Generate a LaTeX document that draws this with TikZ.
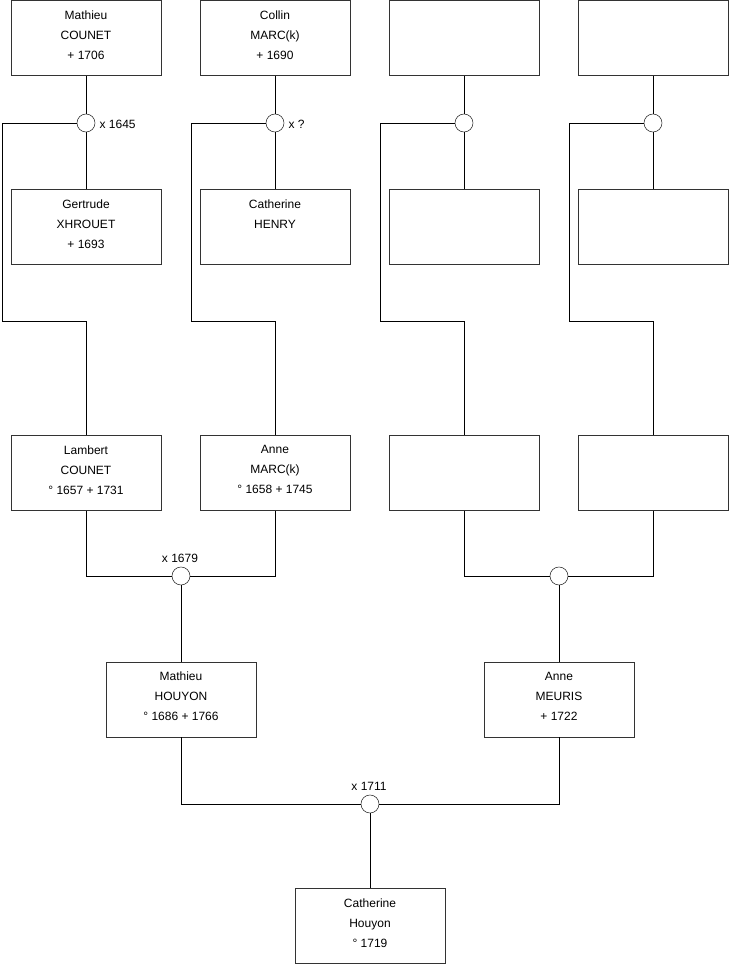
\documentclass[tikz,border=0pt]{standalone}
\usepackage{fontspec}
\setmainfont{Liberation Sans}
\begin{document}
\begin{tikzpicture}[x=0.75pt,y=-0.75pt,
  person/.style={draw=black!80,fill=white,minimum width=112.5pt,minimum height=56.25pt,align=center,font=\fontsize{9}{15}\selectfont,inner sep=0pt,text depth=5pt},
  union/.style={draw=black!85,fill=white,circle,minimum size=13.5pt,inner sep=0pt},
  lbl/.style={font=\fontsize{9}{11}\selectfont,inner sep=1pt},
  link/.style={draw=black,line width=0.6pt}]
\useasboundingbox (0,0) rectangle (740,975);
% row 1
\node[person] (p1) at (86,38) {Mathieu\\COUNET\\+ 1706};
\node[person] (p2) at (275,38) {Collin\\MARC(k)\\+ 1690};
\node[person] (p3) at (464,38) {};
\node[person] (p4) at (653,38) {};
% unions row 1
\node[union] (u1) at (86,123) {};
\node[union] (u2) at (275,123) {};
\node[union] (u3) at (464,123) {};
\node[union] (u4) at (653,123) {};
\node[lbl,anchor=west] (l1) at (98,124) {x 1645};
\node[lbl,anchor=west] (l2) at (287,124) {x ?};
% row 2
\node[person] (q1) at (86,227) {Gertrude\\XHROUET\\+ 1693};
\node[person] (q2) at (275,227) {Catherine\\HENRY\\\strut};
\node[person] (q3) at (464,227) {};
\node[person] (q4) at (653,227) {};
% row 3
\node[person] (r1) at (86,473) {Lambert\\COUNET\\° 1657 + 1731};
\node[person] (r2) at (275,473) {Anne\\MARC(k)\\° 1658 + 1745};
\node[person] (r3) at (464,473) {};
\node[person] (r4) at (653,473) {};
% unions row 3
\node[union] (v1) at (181,576) {};
\node[union] (v2) at (559,576) {};
\node[lbl] (l3) at (180,558) {x 1679};
% row 4
\node[person] (s1) at (181,699.5) {Mathieu\\HOUYON\\° 1686 + 1766};
\node[person] (s2) at (559,699.5) {Anne\\MEURIS\\+ 1722};
% union row 4
\node[union] (w1) at (370,804) {};
\node[lbl] (l4) at (369,786) {x 1711};
% row 5
\node[person] (t1) at (370,926) {Catherine\\Houyon\\° 1719};
% coordinates for bends
\coordinate (a1) at (2,123);   \coordinate (b1) at (2,321);   \coordinate (c1) at (86,321);
\coordinate (a2) at (191,123); \coordinate (b2) at (191,321); \coordinate (c2) at (275,321);
\coordinate (a3) at (380,123); \coordinate (b3) at (380,321); \coordinate (c3) at (464,321);
\coordinate (a4) at (569,123); \coordinate (b4) at (569,321); \coordinate (c4) at (653,321);
% connectors row 1
\foreach \i in {1,2,3,4}{
  \draw[link] (p\i.south) -- (u\i.north);
  \draw[link] (u\i.south) -- (q\i.north);
  \draw[link] (u\i.west) -- (a\i) -- (b\i) -- (c\i) -- (r\i.north);
}
% connectors row 3
\draw[link] (r1.south) |- (v1.west);
\draw[link] (r2.south) |- (v1.east);
\draw[link] (v1.south) -- (s1.north);
\draw[link] (r3.south) |- (v2.west);
\draw[link] (r4.south) |- (v2.east);
\draw[link] (v2.south) -- (s2.north);
% connectors row 4
\draw[link] (s1.south) |- (w1.west);
\draw[link] (s2.south) |- (w1.east);
\draw[link] (w1.south) -- (t1.north);
\end{tikzpicture}
\end{document}
